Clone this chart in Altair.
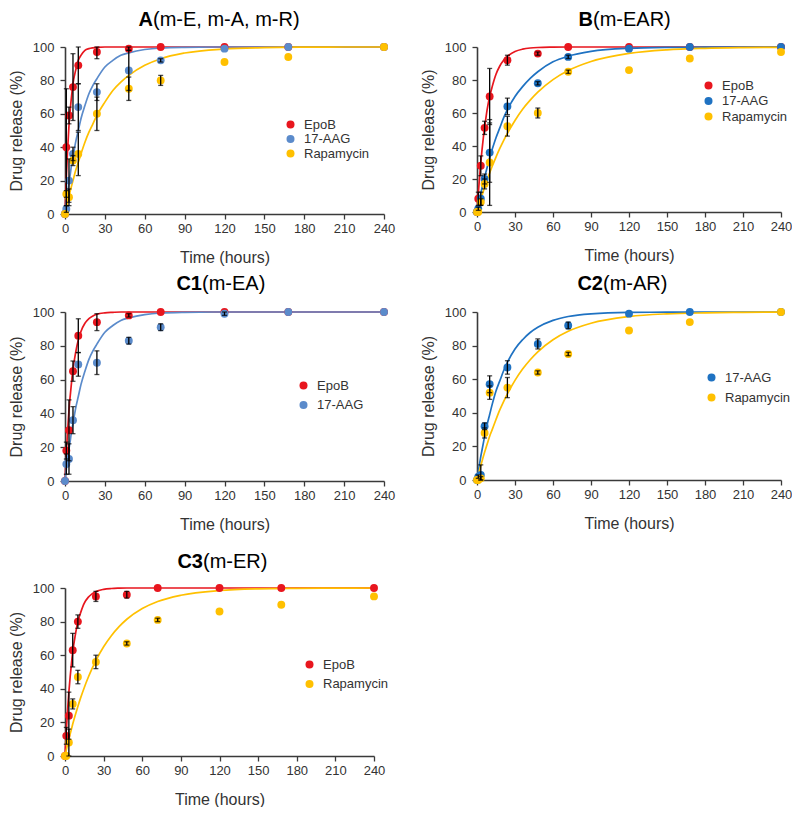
import altair as alt
import pandas as pd

FONT = "Liberation Sans"
TIME = [0, 1, 3, 6, 10, 24, 48, 72, 120, 168, 240]
FIT_T = [0, 1, 2, 3, 4, 5, 6, 8, 10, 12, 15, 18, 21, 24, 30, 36, 42, 48, 60, 72, 90, 120, 150, 180, 210, 240]
X_TICKS = [0, 30, 60, 90, 120, 150, 180, 210, 240]
Y_TICKS = [0, 20, 40, 60, 80, 100]

RED = "#E8161E"
BLUE_LIGHT = "#5B8BCB"
BLUE_DARK = "#1F72C2"
GOLD = "#FFC000"

# Panel A (m-E, m-A, m-R)
A_EPOB = [0, 40, 59, 76, 89, 97, 99, 100, 100, 100, 100]
A_EPOB_SD = [0, 35, 5, 20, 11, 4, 1, 0, 0, 0, 0]
A_AAG = [0, 3, 20, 36, 64, 73, 86, 92, 99, 100, 100]
A_AAG_SD = [0, 2, 13, 4, 14, 5, 12, 1, 0, 0, 0]
A_RAPA = [0, 12, 10, 32, 36, 60, 75, 80, 91, 94, 100]
A_RAPA_SD = [0, 2, 5, 3, 13, 10, 7, 3, 0, 0, 0]
A_EPOB_FIT = [0, 22, 39, 53, 63, 71, 78, 86, 92, 95, 98, 99, 99.5, 99.8, 100, 100, 100, 100, 100, 100, 100, 100, 100, 100, 100, 100]
A_AAG_FIT = [0, 7, 13, 19, 24, 30, 34, 43, 50, 57, 65, 72, 77, 81, 88, 92, 95, 96.5, 98.5, 99.4, 99.8, 100, 100, 100, 100, 100]
A_RAPA_FIT = [0, 3.6, 7, 10.5, 14, 17, 20, 26, 31, 36, 43, 49, 54, 59, 67, 74, 79, 83, 89, 93, 96.4, 98.8, 99.6, 99.9, 100, 100]

# Panel B (m-EAR)
B_EPOB = [0, 8, 28, 51, 70, 92, 96, 100, 100, 100, 100]
B_EPOB_SD = [0, 4, 6, 4, 17, 3, 1, 0, 0, 0, 0]
B_AAG = [0, 2, 8, 20, 36, 64, 78, 94, 99, 100, 100]
B_AAG_SD = [0, 1, 4, 3, 18, 5, 1, 1, 0, 0, 0]
B_RAPA = [0, 0, 6, 17, 30, 52, 60, 85, 86, 93, 97]
B_RAPA_SD = [0, 0, 2, 3, 26, 6, 3, 1, 0, 0, 0]
B_EPOB_FIT = [0, 11, 21, 30, 38, 45, 51, 62, 70, 76, 83.5, 88.5, 92, 94.4, 97.3, 98.7, 99.4, 99.7, 99.9, 100, 100, 100, 100, 100, 100, 100]
B_AAG_FIT = [0, 4, 7.7, 11.3, 14.8, 18, 21, 27, 33, 38, 45, 51, 57, 62, 70, 76, 81, 85, 91, 94.4, 97.3, 99.2, 99.75, 99.9, 100, 100]
B_RAPA_FIT = [0, 2.7, 5.3, 7.8, 10.2, 12.6, 15, 19.4, 23.7, 27.7, 33.3, 38.5, 43.3, 47.7, 55.5, 62.3, 67.8, 72.6, 80.2, 85.7, 91.2, 96.1, 98.3, 99.2, 99.6, 99.8]

# Panel C1 (m-EA)
C1_EPOB = [0, 18, 30, 65, 86, 94, 98, 100, 100, 100, 100]
C1_EPOB_SD = [0, 5, 18, 6, 10, 5, 1, 0, 0, 0, 0]
C1_AAG = [0, 10, 13, 36, 69, 70, 83, 91, 99, 100, 100]
C1_AAG_SD = [0, 6, 9, 8, 7, 7, 2, 2, 1, 0, 0]
C1_EPOB_FIT = [0, 16.5, 30, 42, 51, 59, 66, 76, 83.5, 88.5, 93.3, 96.1, 97.7, 98.7, 99.5, 99.8, 100, 100, 100, 100, 100, 100, 100, 100, 100, 100]
C1_AAG_FIT = [0, 7, 13, 19, 24, 30, 34, 43, 50, 57, 65, 72, 77, 81, 88, 92, 95, 96.5, 98.5, 99.4, 99.8, 100, 100, 100, 100, 100]

# Panel C2 (m-AR)
C2_AAG = [0, 2, 3, 32, 57, 67, 81, 92, 99, 100, 100]
C2_AAG_SD = [0, 1, 6, 2, 5, 4, 3, 2, 0, 0, 0]
C2_RAPA = [0, 0, 1, 28, 52, 55, 64, 75, 89, 94, 100]
C2_RAPA_SD = [0, 0, 1, 3, 4, 6, 1, 1, 0, 0, 0]
C2_AAG_FIT = [0, 4.9, 9.5, 14, 18, 22, 26, 33, 39, 45, 53, 59, 65, 70, 78, 83.5, 87.8, 90.9, 95, 97.3, 98.9, 99.75, 99.9, 100, 100, 100]
C2_RAPA_FIT = [0, 3, 5.8, 8.6, 11.3, 14, 16.5, 21.3, 26, 30, 36, 41.7, 46.7, 51.3, 59.3, 66, 71.6, 76.3, 83.5, 88.5, 93.3, 97.3, 98.9, 99.5, 99.8, 99.9]

# Panel C3 (m-ER)
C3_EPOB = [0, 12, 24, 63, 80, 95, 96, 100, 100, 100, 100]
C3_EPOB_SD = [0, 5, 14, 10, 4, 3, 2, 0, 0, 0, 0]
C3_RAPA = [0, 0, 8, 31, 47, 56, 67, 81, 86, 90, 95]
C3_RAPA_SD = [0, 0, 8, 3, 4, 4, 1, 1, 0, 0, 0]
C3_EPOB_FIT = [0, 14.8, 27.4, 38, 47, 55, 62, 72, 80, 85, 91, 94.4, 96.5, 97.9, 99.2, 99.7, 99.9, 100, 100, 100, 100, 100, 100, 100, 100, 100]
C3_RAPA_FIT = [0, 3.4, 6.8, 10, 13, 16, 19, 24.4, 29.5, 34.3, 40.8, 46.7, 52, 56.8, 65, 71.6, 77, 81.4, 87.8, 92, 95.7, 98.5, 99.5, 99.8, 99.9, 100]


def panel(series, width, height, bold, rest, tx, ty, lx, ly, rowpad):
    names = [s[0] for s in series]
    colors = [s[4] for s in series]
    pts, fits, errs = [], [], []
    for name, vals, sds, fit, _ in series:
        for t, v, sd in zip(TIME, vals, sds):
            pts.append({"t": t, "v": v, "s": name})
            if sd > 0:
                errs.append({"t": t, "v": max(v - sd, 0), "hi": min(v + sd, 100)})
        for t, v in zip(FIT_T, fit):
            fits.append({"t": t, "v": v, "s": name})
    pts, fits, errs = pd.DataFrame(pts), pd.DataFrame(fits), pd.DataFrame(errs)

    xs = alt.Scale(domain=[0, 240], nice=False, padding=0)
    ys = alt.Scale(domain=[0, 100], nice=False, padding=0)
    xa = alt.Axis(values=X_TICKS, grid=False, labelOverlap=False, labelFlush=False)
    ya = alt.Axis(values=Y_TICKS, grid=False, labelOverlap=False, labelFlush=False)
    X = alt.X("t:Q", scale=xs, axis=xa, title="Time (hours)")
    Y = alt.Y("v:Q", scale=ys, axis=ya, title="Drug release (%)")
    cs = alt.Scale(domain=names, range=colors)

    lines = alt.Chart(fits).mark_line(strokeWidth=1.7, interpolate="monotone").encode(
        x=X, y=Y,
        stroke=alt.Stroke("s:N", scale=cs, legend=None),
        detail="s:N",
    )
    dots = alt.Chart(pts).mark_circle(size=62, opacity=1).encode(
        x=X, y=Y,
        color=alt.Color(
            "s:N", scale=cs,
            legend=alt.Legend(
                orient="none", legendX=lx, legendY=ly, title=None,
                symbolType="circle", symbolSize=64, labelFontSize=13,
                labelFont=FONT, labelColor="#333333", rowPadding=rowpad,
                labelOffset=7, padding=0, symbolStrokeWidth=0,
            ),
        ),
    )
    bars = alt.Chart(errs).mark_errorbar(ticks=True, color="black", thickness=1.3).encode(
        x=X, y=Y, y2="hi:Q"
    )
    tb = alt.Chart(pd.DataFrame({"txt": [bold]})).mark_text(
        align="right", baseline="middle", fontWeight="bold", fontSize=20, font=FONT, color="black"
    ).encode(x=alt.value(tx), y=alt.value(ty), text="txt:N")
    tr = alt.Chart(pd.DataFrame({"txt": ["\u00a0" + rest]})).mark_text(
        align="left", baseline="middle", fontSize=20, font=FONT, color="black"
    ).encode(x=alt.value(tx), y=alt.value(ty), text="txt:N")
    return alt.layer(lines, dots, bars, tb, tr).properties(width=width, height=height).resolve_scale(
        color="independent", stroke="independent"
    )


pA = panel([("EpoB", A_EPOB, A_EPOB_SD, A_EPOB_FIT, RED),
            ("17-AAG", A_AAG, A_AAG_SD, A_AAG_FIT, BLUE_LIGHT),
            ("Rapamycin", A_RAPA, A_RAPA_SD, A_RAPA_FIT, GOLD)],
           319, 167, "A", "(m-E, m-A, m-R)", 88, -27, 219, 71, 0.5)
pB = panel([("EpoB", B_EPOB, B_EPOB_SD, B_EPOB_FIT, RED),
            ("17-AAG", B_AAG, B_AAG_SD, B_AAG_FIT, BLUE_DARK),
            ("Rapamycin", B_RAPA, B_RAPA_SD, B_RAPA_FIT, GOLD)],
           304, 165, "B", "(m-EAR)", 116, -27, 225, 32, 1.5)
pC1 = panel([("EpoB", C1_EPOB, C1_EPOB_SD, C1_EPOB_FIT, RED),
             ("17-AAG", C1_AAG, C1_AAG_SD, C1_AAG_FIT, BLUE_LIGHT)],
            319, 169, "C1", "(m-EA)", 137, -28, 232, 67, 5.5)
pC2 = panel([("17-AAG", C2_AAG, C2_AAG_SD, C2_AAG_FIT, BLUE_DARK),
             ("Rapamycin", C2_RAPA, C2_RAPA_SD, C2_RAPA_FIT, GOLD)],
            304, 168, "C2", "(m-AR)", 126, -28, 228, 59, 6)
pC3 = panel([("EpoB", C3_EPOB, C3_EPOB_SD, C3_EPOB_FIT, RED),
             ("Rapamycin", C3_RAPA, C3_RAPA_SD, C3_RAPA_FIT, GOLD)],
            309, 168, "C3", "(m-ER)", 138, -26, 238, 70, 5.5)

row1 = alt.hconcat(pA, pB, spacing=25)
row2 = alt.hconcat(pC1, pC2, spacing=25)
top = alt.vconcat(row1, row2, spacing=9)
chart = alt.vconcat(top, pC3, spacing=20).resolve_scale(
    color="independent", stroke="independent"
).properties(padding={"left": 0, "top": 2, "right": 0, "bottom": 0}).configure_view(stroke=None).configure_scale(
    continuousPadding=0
).configure_axis(
    labelFont=FONT, titleFont=FONT, labelFontSize=13, titleFontSize=16,
    labelColor="#333333", titleColor="#333333", titleFontWeight="normal",
    domainColor="#3a3a3a", domainWidth=1.6, tickColor="#3a3a3a", tickWidth=1.3, tickSize=5,
    labelFlush=False,
).configure_axisX(labelPadding=3, titlePadding=14, labelFontSize=13).configure_axisY(
    labelPadding=6, titlePadding=8
)

chart.save("out.html", embed_options={"renderer": "svg", "actions": False})
